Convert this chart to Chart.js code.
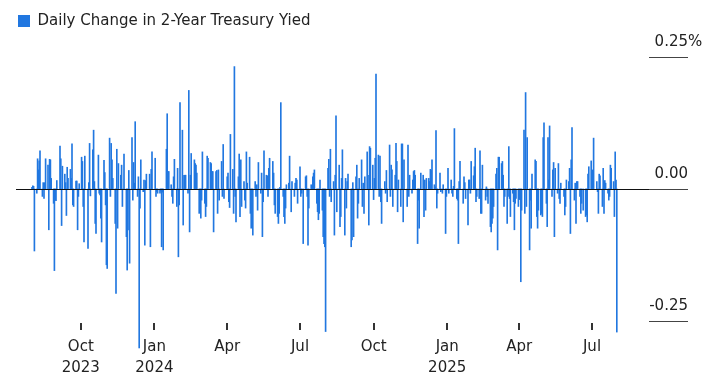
<!DOCTYPE html>
<html>
<head>
<meta charset="utf-8">
<script src="https://cdn.jsdelivr.net/npm/chart.js@4.4.1/dist/chart.umd.min.js"></script>
<style>
  html, body { margin: 0; padding: 0; background: #ffffff; }
  #wrap { width: 720px; height: 383px; position: relative; }
</style>
</head>
<body>
<div id="wrap"><canvas id="c" width="720" height="383"></canvas></div>
<script>
// ---- Data (daily change in 2-year Treasury yield, percentage points), one array per month of trading weekdays ----
const seriesLabel = 'Daily Change in 2-Year Treasury Yied';
const firstDay = '2023-08-01';
const lastDay = '2025-08-01';

const aug2023 = [0.003, 0.006, 0.005, -0.117, -0.008, 0.057, 0.036, 0.053, 0.072, -0.014, 0.012, -0.018, 0.012, 0.057, 0.045, -0.077, 0.056, 0.055, 0.020, -0.027, -0.154, -0.021, -0.022];
const sep2023 = [0.016, null, 0.081, 0.057, -0.069, 0.043, 0.028, 0.012, -0.050, 0.041, 0.020, 0.037, 0.020, 0.085, -0.030, -0.033, 0.015, 0.015, -0.077, -0.014, 0.010];
const oct2023 = [0.060, 0.052, -0.033, -0.100, 0.062, null, -0.112, 0.012, 0.086, -0.013, 0.074, 0.111, 0.014, -0.065, -0.084, 0.064, -0.008, -0.011, -0.055, -0.100, 0.054, 0.031];
const nov2023 = [-0.030, -0.143, -0.150, 0.096, -0.014, 0.086, 0.055, 0.020, -0.065, -0.197, 0.075, -0.074, 0.048, 0.026, 0.045, -0.033, null, 0.066, -0.090, -0.153, -0.077, 0.035];
const dec2023 = [-0.140, 0.097, -0.021, 0.050, 0.011, 0.127, -0.014, 0.023, -0.300, -0.036, 0.055, -0.005, 0.017, -0.106, 0.016, 0.028, null, 0.028, -0.109, 0.037, 0.070];
const jan2024 = [null, 0.058, -0.014, -0.005, -0.008, -0.008, -0.004, -0.109, -0.006, -0.115, null, 0.075, 0.142, 0.033, 0.033, 0.008, -0.014, -0.027, 0.023, 0.056, -0.033, 0.039, -0.128];
const feb2024 = [-0.030, 0.163, 0.111, -0.068, 0.026, 0.026, 0.026, -0.008, 0.186, -0.081, 0.026, 0.067, null, 0.055, 0.048, 0.045, 0.030, -0.046, -0.014, -0.055, -0.021];
const mar2024 = [0.070, -0.027, -0.052, -0.033, 0.062, 0.058, 0.050, 0.048, 0.033, 0.033, -0.081, 0.033, 0.035, -0.046, 0.036, -0.021, 0.052, -0.014, 0.084, -0.018, null];
const apr2024 = [0.023, 0.030, -0.024, -0.035, 0.103, 0.037, -0.046, 0.231, -0.014, -0.062, 0.023, 0.066, -0.052, 0.055, -0.033, 0.014, -0.021, -0.036, 0.070, 0.011, 0.060, -0.046];
const may2024 = [-0.074, -0.010, -0.087, 0.014, -0.014, 0.008, -0.040, 0.050, -0.008, 0.030, -0.090, -0.024, 0.072, 0.026, 0.025, -0.014, 0.039, 0.058, null, 0.052, 0.030, -0.030, -0.046];
const jun2024 = [-0.052, -0.065, -0.046, 0.003, 0.163, -0.014, -0.052, -0.065, -0.036, 0.008, 0.011, 0.062, null, -0.043, 0.014, -0.014, 0.011, 0.020, 0.017, -0.027];
const jul2024 = [0.042, -0.014, -0.008, null, -0.103, 0.023, 0.025, -0.014, -0.106, -0.036, 0.008, 0.004, 0.023, 0.030, 0.036, -0.027, -0.043, -0.058, -0.046, 0.017, -0.040, -0.090, -0.103];
const aug2024 = [-0.109, -0.269, 0.039, 0.056, -0.014, 0.075, -0.024, 0.014, -0.087, 0.026, 0.138, -0.043, 0.045, -0.071, -0.052, 0.020, 0.074, -0.087, 0.020, -0.036, 0.014, 0.028];
const sep2024 = [null, -0.109, -0.096, 0.012, -0.090, 0.023, 0.045, -0.055, -0.027, 0.020, 0.055, -0.033, 0.011, -0.046, 0.023, 0.070, 0.026, -0.068, 0.080, 0.077, 0.045];
const oct2024 = [-0.020, 0.020, 0.058, 0.217, 0.064, -0.014, 0.062, -0.024, -0.065, null, 0.014, -0.008, 0.035, -0.024, 0.083, -0.014, 0.045, 0.036, -0.033, 0.026, 0.086, 0.052, -0.043];
const nov2024 = [0.017, -0.033, 0.085, 0.085, -0.062, 0.055, null, -0.033, 0.083, -0.014, 0.026, -0.008, 0.017, 0.033, 0.035, 0.026, -0.103, -0.021, -0.074, null, 0.030];
const dec2024 = [0.026, -0.052, 0.017, -0.040, 0.020, 0.020, 0.014, 0.037, 0.035, 0.055, 0.008, 0.004, 0.110, -0.036, -0.008, 0.030, -0.005, null, -0.008, 0.008, -0.084, -0.014];
const jan2025 = [null, 0.039, -0.008, 0.017, -0.008, -0.014, 0.005, 0.114, -0.018, -0.021, -0.103, 0.014, 0.052, null, -0.027, 0.023, 0.012, -0.018, -0.068, 0.017, 0.017, -0.008, 0.052];
const feb2025 = [0.025, 0.042, 0.077, -0.024, -0.014, -0.018, 0.072, -0.046, -0.046, 0.045, null, -0.021, 0.004, -0.014, -0.027, -0.071, -0.081, -0.065, -0.055, -0.033];
const mar2025 = [0.028, 0.039, -0.115, 0.060, 0.060, 0.048, 0.052, 0.026, -0.033, -0.014, -0.065, -0.014, 0.080, -0.018, -0.052, -0.008, -0.024, -0.077, -0.027, -0.018, -0.033];
const apr2025 = [-0.020, -0.010, -0.175, -0.040, 0.111, -0.046, 0.182, -0.033, 0.097, -0.115, -0.021, -0.074, 0.028, null, 0.055, 0.052, -0.052, -0.074, -0.040, -0.049, -0.046, -0.052];
const may2025 = [0.097, 0.125, -0.027, -0.071, 0.097, 0.017, 0.119, -0.014, 0.036, 0.050, -0.090, 0.039, -0.008, 0.048, -0.018, -0.027, 0.011, null, -0.014, -0.049, -0.033, 0.017];
const jun2025 = [0.014, 0.039, -0.084, 0.055, 0.116, -0.021, 0.011, -0.065, 0.014, 0.014, -0.014, -0.046, -0.027, null, -0.040, -0.052, -0.049, -0.062, 0.028, 0.042, 0.053];
const jul2025 = [0.017, 0.036, 0.096, null, 0.014, -0.005, -0.046, 0.028, 0.025, -0.033, 0.039, -0.046, 0.016, 0.011, -0.008, -0.021, -0.014, 0.045, 0.039, 0.014, -0.052, 0.070, 0.017];
const aug2025 = [-0.270];

// ---- Axis ticks ----
const xTickDates = ['2023-10-01', '2024-01-01', '2024-04-01', '2024-07-01', '2024-10-01', '2025-01-01', '2025-04-01', '2025-07-01'];
const xTickLabels = [['Oct', '2023'], ['Jan', '2024'], 'Apr', 'Jul', 'Oct', ['Jan', '2025'], 'Apr', 'Jul'];
const xAxisStart = '2023-07-12';
const xAxisEnd = '2025-10-29';
const yTickValues = [0.25, 0, -0.25];
const yTickLabels = ['0.25', '0.00', '-0.25'];
const yTickSuffix = ['%', '', ''];
const yMin = -0.251;
const yMax = 0.284;

// ---- Build the table the library needs ----
const DAY = 86400000;
function dayNum(s) { const [y, m, d] = s.split('-').map(Number); return Date.UTC(y, m - 1, d) / DAY; }
function weekdays(a, b) {
  const out = [];
  for (let t = dayNum(a); t <= dayNum(b); t++) {
    const w = new Date(t * DAY).getUTCDay();
    if (w !== 0 && w !== 6) out.push(t);
  }
  return out;
}
const values = [].concat(aug2023, sep2023, oct2023, nov2023, dec2023, jan2024, feb2024, mar2024, apr2024,
  may2024, jun2024, jul2024, aug2024, sep2024, oct2024, nov2024, dec2024, jan2025, feb2025, mar2025,
  apr2025, may2025, jun2025, jul2025, aug2025);
const days = weekdays(firstDay, lastDay);
const n = Math.min(days.length, values.length);
const points = [];
for (let i = 0; i < n; i++) points.push({ x: days[i], y: values[i] });

const BLUE = '#2177e0';
const FONT = '"DejaVu Sans", "Liberation Sans", sans-serif';

Chart.defaults.font.family = FONT;
Chart.defaults.font.size = 15;
Chart.defaults.color = '#222';

const axisDecor = {
  id: 'axisDecor',
  afterDatasetsDraw(chart) {
    const { ctx, chartArea, scales } = chart;
    const y = scales.y;
    ctx.save();
    ctx.lineWidth = 1;
    // zero line across the plot
    const y0 = Math.round(y.getPixelForValue(0)) + 0.5;
    ctx.strokeStyle = '#111';
    ctx.beginPath();
    ctx.moveTo(chartArea.left, y0);
    ctx.lineTo(chartArea.right, y0);
    ctx.stroke();
    // right-hand value labels with short rules under them
    ctx.font = '15px ' + FONT;
    ctx.textBaseline = 'middle';
    yTickValues.forEach((v, i) => {
      const py = Math.round(y.getPixelForValue(v)) + 0.5;
      ctx.strokeStyle = '#444';
      ctx.beginPath();
      ctx.moveTo(chartArea.right - 39, py);
      ctx.lineTo(chartArea.right, py);
      ctx.stroke();
      ctx.fillStyle = '#222';
      ctx.textAlign = 'right';
      ctx.fillText(yTickLabels[i], chartArea.right, py - 15);
      if (yTickSuffix[i]) {
        ctx.textAlign = 'left';
        ctx.fillText(yTickSuffix[i], chartArea.right, py - 15);
      }
    });
    ctx.restore();
  },
  afterDraw(chart) {
    // small tick marks above the month labels
    const { ctx, scales } = chart;
    const x = scales.x;
    const y = scales.y;
    const top = Math.round(y.getPixelForValue(yMin)) + 1;
    ctx.save();
    ctx.fillStyle = '#333';
    xTickDates.forEach((d) => {
      const px = Math.round(x.getPixelForValue(dayNum(d)));
      ctx.fillRect(px - 1, top, 2, 7);
    });
    ctx.restore();
  }
};

new Chart(document.getElementById('c'), {
  type: 'bar',
  data: {
    datasets: [{
      label: seriesLabel,
      data: points,
      backgroundColor: BLUE,
      borderWidth: 0,
      barThickness: 1,
      clip: false,
    }]
  },
  options: {
    responsive: false,
    animation: false,
    events: [],
    layout: { padding: { left: 16, right: 32, top: 11.5, bottom: 0 } },
    plugins: {
      legend: {
        display: true,
        position: 'top',
        align: 'start',
        labels: { boxWidth: 12, boxHeight: 12, padding: 2, color: '#222', font: { size: 15 } }
      },
      tooltip: { enabled: false },
    },
    scales: {
      x: {
        type: 'linear',
        position: 'bottom',
        min: dayNum(xAxisStart),
        max: dayNum(xAxisEnd),
        offset: false,
        border: { display: false },
        grid: { display: false, offset: false, drawOnChartArea: false, drawTicks: true, tickLength: 6 },
        afterBuildTicks: (scale) => { scale.ticks = xTickDates.map(d => ({ value: dayNum(d) })); },
        afterFit: (scale) => { scale.height = 61; },
        ticks: {
          autoSkip: false,
          maxRotation: 0,
          minRotation: 0,
          padding: 9,
          color: '#222',
          font: { size: 15, lineHeight: 1.4 },
          callback: (v, i) => xTickLabels[i]
        }
      },
      y: {
        display: false,
        min: yMin,
        max: yMax
      }
    }
  },
  plugins: [axisDecor]
});
</script>
</body>
</html>
